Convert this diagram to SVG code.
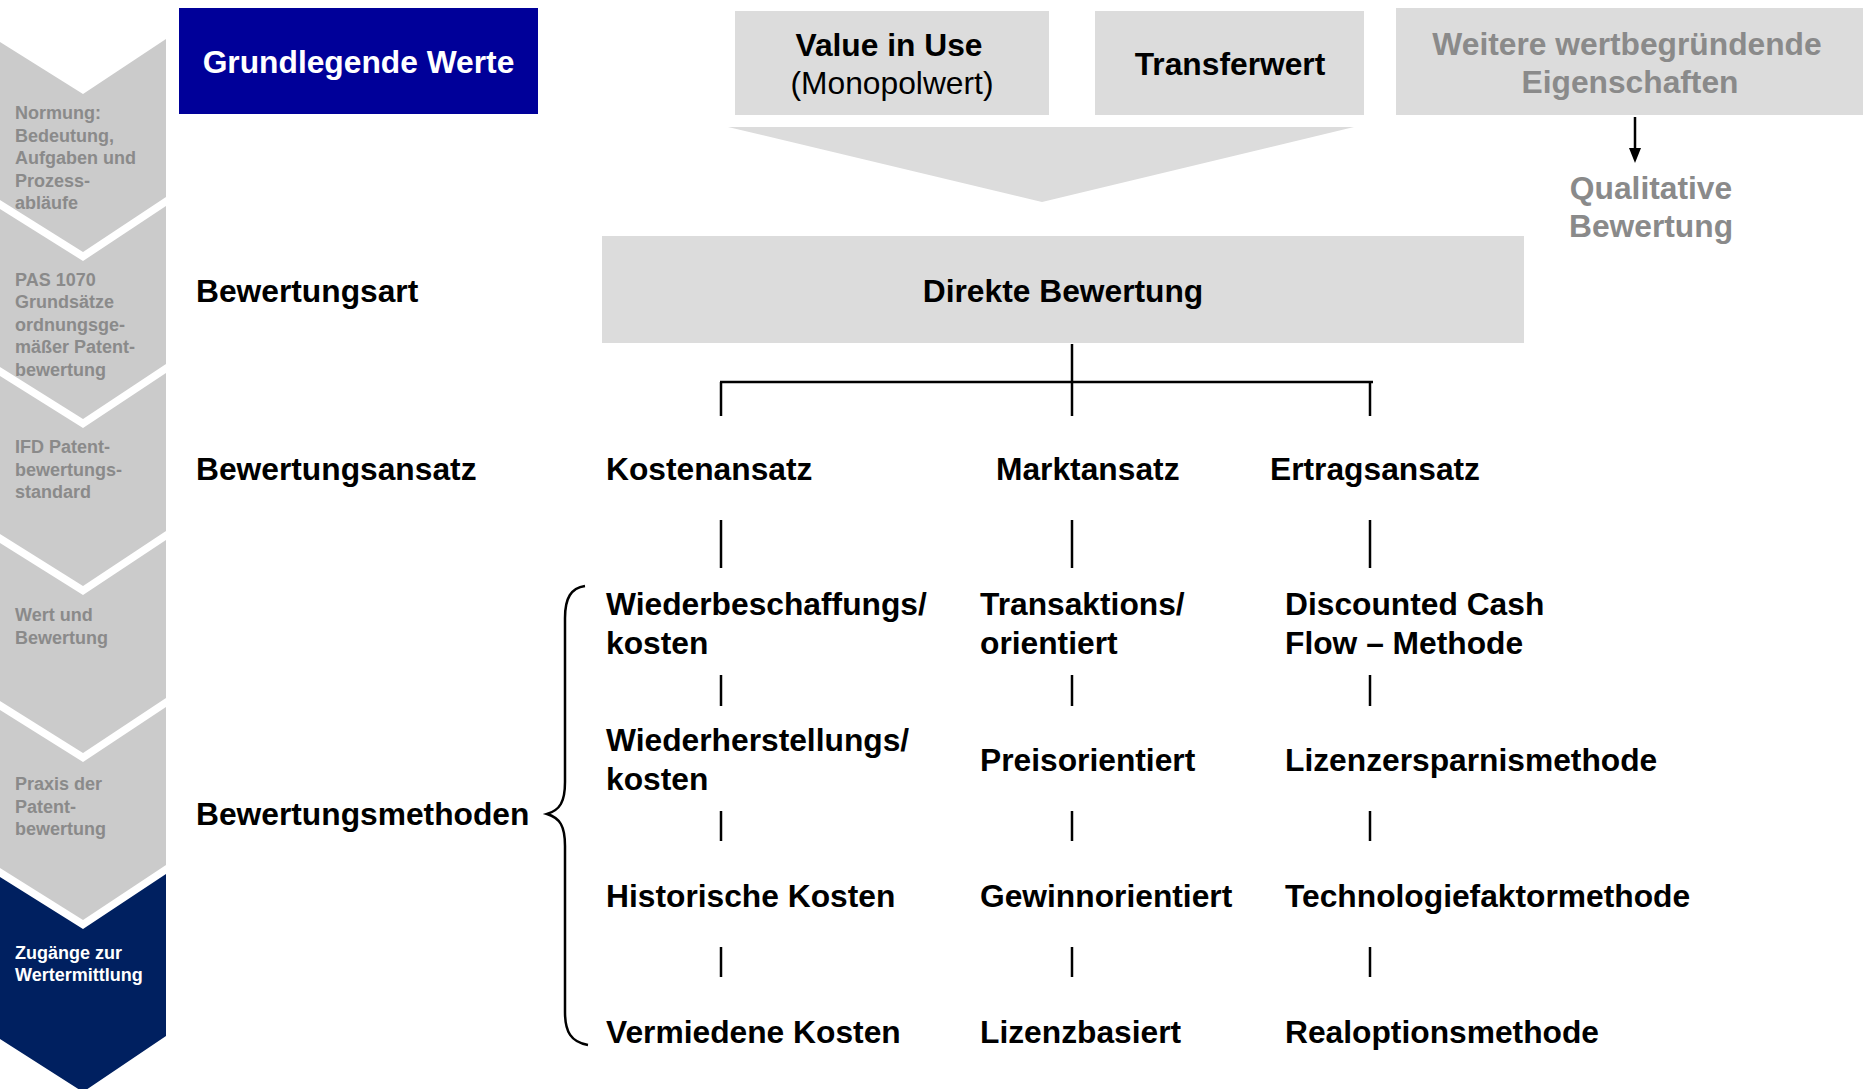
<svg xmlns="http://www.w3.org/2000/svg" width="1863" height="1089" viewBox="0 0 1863 1089">
<defs>
<style>
.chev{fill:#cbcbcb}
.chev-active{fill:#002060}
.ct{font-family:"Liberation Sans",Arial,sans-serif;font-weight:bold;font-size:18px;fill:#8a8a8a}
.ct-active{font-family:"Liberation Sans",Arial,sans-serif;font-weight:bold;font-size:18px;fill:#ffffff}
.t{font-family:"Liberation Sans",Arial,sans-serif;font-weight:bold;font-size:31.75px;fill:#000000}
.tr{font-family:"Liberation Sans",Arial,sans-serif;font-weight:normal;font-size:31.75px;fill:#000000}
.tg{font-family:"Liberation Sans",Arial,sans-serif;font-weight:bold;font-size:31.75px;fill:#8a8a8a}
.tw{font-family:"Liberation Sans",Arial,sans-serif;font-weight:bold;font-size:31.75px;fill:#ffffff}
.box{fill:#dcdcdc}
.ln{stroke:#000000;stroke-width:2.5;fill:none}
</style>
<marker id="arr" markerWidth="15" markerHeight="12" refX="1" refY="6" orient="auto" markerUnits="userSpaceOnUse" viewBox="0 0 15 12">
<path d="M0,0 L15,6 L0,12 Z" fill="#000000"/>
</marker>
</defs>
<rect width="1863" height="1089" fill="#ffffff"/>

<!-- Left chevron navigation -->
<g id="chev-normung">
<polygon class="chev" points="0,42 83,94 166,39 166,197 83,252 0,200"/>
<text class="ct" x="15" y="119">Normung:</text>
<text class="ct" x="15" y="141.5">Bedeutung,</text>
<text class="ct" x="15" y="164">Aufgaben und</text>
<text class="ct" x="15" y="186.5">Prozess-</text>
<text class="ct" x="15" y="209">abläufe</text>
</g>
<g id="chev-pas">
<polygon class="chev" points="0,209 83,261 166,206 166,364 83,419 0,367"/>
<text class="ct" x="15" y="285.5">PAS 1070</text>
<text class="ct" x="15" y="308">Grundsätze</text>
<text class="ct" x="15" y="330.5">ordnungsge-</text>
<text class="ct" x="15" y="353">mäßer Patent-</text>
<text class="ct" x="15" y="375.5">bewertung</text>
</g>
<g id="chev-ifd">
<polygon class="chev" points="0,376 83,428 166,373 166,531 83,586 0,534"/>
<text class="ct" x="15" y="453">IFD Patent-</text>
<text class="ct" x="15" y="475.5">bewertungs-</text>
<text class="ct" x="15" y="498">standard</text>
</g>
<g id="chev-wert">
<polygon class="chev" points="0,543 83,595 166,540 166,698 83,753 0,701"/>
<text class="ct" x="15" y="621">Wert und</text>
<text class="ct" x="15" y="643.5">Bewertung</text>
</g>
<g id="chev-praxis">
<polygon class="chev" points="0,710 83,762 166,707 166,865 83,920 0,868"/>
<text class="ct" x="15" y="790">Praxis der</text>
<text class="ct" x="15" y="812.5">Patent-</text>
<text class="ct" x="15" y="835">bewertung</text>
</g>
<g id="chev-zugaenge">
<polygon class="chev-active" points="0,877 83,929 166,874 166,1036 83,1092 0,1039"/>
<text class="ct-active" x="15" y="959">Zugänge zur</text>
<text class="ct-active" x="15" y="981">Wertermittlung</text>
</g>

<!-- Top row -->
<g id="grundlegende-werte">
<rect x="179" y="8" width="359" height="106" fill="#000099"/>
<text class="tw" x="358.5" y="73" text-anchor="middle">Grundlegende Werte</text>
</g>
<g id="value-in-use">
<rect class="box" x="735" y="11" width="314" height="104"/>
<text class="t" x="889" y="56" text-anchor="middle">Value in Use</text>
<text class="tr" x="892" y="94" text-anchor="middle">(Monopolwert)</text>
</g>
<g id="transferwert">
<rect class="box" x="1095" y="11" width="269" height="104"/>
<text class="t" x="1230" y="75" text-anchor="middle">Transferwert</text>
</g>
<g id="weitere">
<rect class="box" x="1396" y="8" width="467" height="107"/>
<text class="tg" x="1627" y="55" text-anchor="middle">Weitere wertbegründende</text>
<text class="tg" x="1630" y="93" text-anchor="middle">Eigenschaften</text>
</g>
<g id="qualitative">
<text class="tg" x="1651" y="199" text-anchor="middle">Qualitative</text>
<text class="tg" x="1651" y="237" text-anchor="middle">Bewertung</text>
</g>
<g id="merge-arrow">
<polygon class="box" points="728,127 1354,127 1042,202"/>
</g>

<!-- Row labels -->
<g id="label-art"><text class="t" x="196" y="302">Bewertungsart</text></g>
<g id="label-ansatz"><text class="t" x="196" y="480">Bewertungsansatz</text></g>
<g id="label-methoden"><text class="t" x="196" y="825">Bewertungsmethoden</text></g>

<!-- Direkte Bewertung -->
<g id="direkte-bewertung">
<rect class="box" x="602" y="236" width="922" height="107"/>
<text class="t" x="1063" y="302" text-anchor="middle">Direkte Bewertung</text>
</g>

<!-- Approaches -->
<g id="kostenansatz"><text class="t" x="606" y="480">Kostenansatz</text></g>
<g id="marktansatz"><text class="t" x="996" y="480">Marktansatz</text></g>
<g id="ertragsansatz"><text class="t" x="1270" y="480">Ertragsansatz</text></g>

<!-- Methods column 1 -->
<g id="wiederbeschaffung"><text class="t" x="606" y="614.5">Wiederbeschaffungs/</text><text class="t" x="606" y="654">kosten</text></g>
<g id="wiederherstellung"><text class="t" x="606" y="751">Wiederherstellungs/</text><text class="t" x="606" y="790">kosten</text></g>
<g id="historische"><text class="t" x="606" y="907">Historische Kosten</text></g>
<g id="vermiedene"><text class="t" x="606" y="1043">Vermiedene Kosten</text></g>

<!-- Methods column 2 -->
<g id="transaktion"><text class="t" x="980" y="614.5">Transaktions/</text><text class="t" x="980" y="654">orientiert</text></g>
<g id="preis"><text class="t" x="980" y="771">Preisorientiert</text></g>
<g id="gewinn"><text class="t" x="980" y="907">Gewinnorientiert</text></g>
<g id="lizenzbasiert"><text class="t" x="980" y="1043">Lizenzbasiert</text></g>

<!-- Methods column 3 -->
<g id="dcf"><text class="t" x="1285" y="614.5">Discounted Cash</text><text class="t" x="1285" y="654">Flow – Methode</text></g>
<g id="lizenzersparnis"><text class="t" x="1285" y="771">Lizenzersparnismethode</text></g>
<g id="technologiefaktor"><text class="t" x="1285" y="907">Technologiefaktormethode</text></g>
<g id="realoption"><text class="t" x="1285" y="1043">Realoptionsmethode</text></g>

<!-- Connectors -->
<g id="connectors">
<line class="ln" x1="1072" y1="344" x2="1072" y2="416"/>
<line class="ln" x1="720" y1="382" x2="1373" y2="382" stroke-width="3"/>
<line class="ln" x1="721" y1="382" x2="721" y2="416"/>
<line class="ln" x1="1370" y1="382" x2="1370" y2="416"/>
<line class="ln" x1="721" y1="520" x2="721" y2="568"/>
<line class="ln" x1="1072" y1="520" x2="1072" y2="568"/>
<line class="ln" x1="1370" y1="520" x2="1370" y2="568"/>
<line class="ln" x1="721" y1="675" x2="721" y2="706"/>
<line class="ln" x1="1072" y1="675" x2="1072" y2="706"/>
<line class="ln" x1="1370" y1="675" x2="1370" y2="706"/>
<line class="ln" x1="721" y1="811" x2="721" y2="841"/>
<line class="ln" x1="1072" y1="811" x2="1072" y2="841"/>
<line class="ln" x1="1370" y1="811" x2="1370" y2="841"/>
<line class="ln" x1="721" y1="947" x2="721" y2="977"/>
<line class="ln" x1="1072" y1="947" x2="1072" y2="977"/>
<line class="ln" x1="1370" y1="947" x2="1370" y2="977"/>
<line class="ln" x1="1635" y1="117" x2="1635" y2="149" marker-end="url(#arr)"/>
<path class="ln" d="M585,586 C571,588 565,598 565,618 L565,782 C565,802 560,810 547,814 C560,818 565,826 565,846 L565,1012 C565,1032 571,1042 588,1045"/>
</g>
</svg>
